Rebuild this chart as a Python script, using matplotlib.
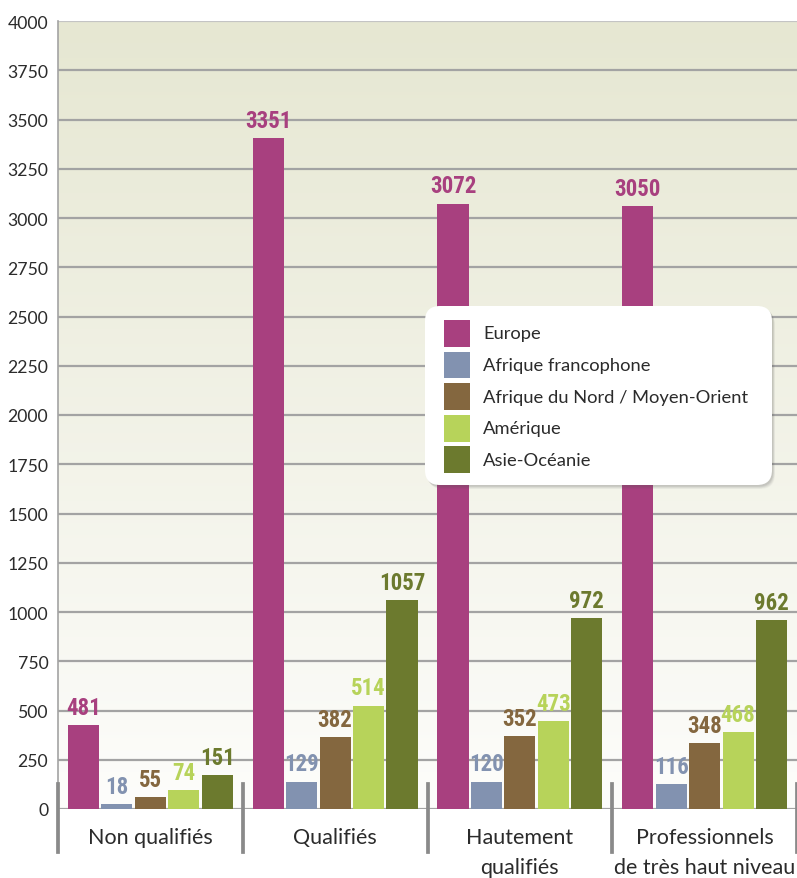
import numpy as np
import matplotlib.pyplot as plt
import matplotlib.colors as mcolors
from matplotlib import font_manager as fm
from matplotlib.patches import FancyBboxPatch, Rectangle

categories = ['Non qualifiés', 'Qualifiés', 'Hautement\nqualifiés', 'Professionnels\nde très haut niveau']
regions = ['Europe', 'Afrique francophone', 'Afrique du Nord / Moyen-Orient', 'Amérique', 'Asie-Océanie']
colors = ['#a8407f', '#8292b0', '#84673f', '#b7d35a', '#6c7a2e']

# printed values
europe = [481, 3351, 3072, 3050]
afrique_franco = [18, 129, 120, 116]
afrique_nord = [55, 382, 352, 348]
amerique = [74, 514, 473, 468]
asie = [151, 1057, 972, 962]

# bar heights as drawn in the picture (they do not match the printed values)
europe_h = [427, 3404, 3073, 3062]
afrique_franco_h = [25, 139, 139, 127]
afrique_nord_h = [62, 366, 371, 335]
amerique_h = [96, 525, 447, 391]
asie_h = [173, 1062, 970, 960]

values = [europe, afrique_franco, afrique_nord, amerique, asie]
heights = [europe_h, afrique_franco_h, afrique_nord_h, amerique_h, asie_h]

# pick a narrow bold font for the value labels if one is installed
lab_font = {'family': 'Roboto', 'size': 14.5}
for fam in ['Roboto Condensed', 'Liberation Sans Narrow', 'DejaVu Sans Condensed']:
    try:
        fm.findfont(fm.FontProperties(family=fam, weight='bold'), fallback_to_default=False)
        lab_font = {'family': fam, 'size': 16.5}
        break
    except ValueError:
        pass

txt = '#2b2b2b'
W, H = 797, 879
fig = plt.figure(figsize=(W/100, H/100), dpi=100)
ax = fig.add_axes([58/W, 69/H, 1 - 58/W, (810-22)/H])
ax.set_xlim(-0.5, 3.5)
ax.set_ylim(0, 4000)

# background gradient
top = np.array(mcolors.to_rgb('#e6e7d2'))
bot = np.array(mcolors.to_rgb('#fdfdfb'))
t = np.linspace(0, 1, 256)[:, None]
grad = (top * (1 - t) + bot * t)[:, None, :]
ax.imshow(grad, extent=[-0.5, 3.5, 0, 4000], aspect='auto', zorder=0, origin='upper')

for yv in range(250, 4000, 250):
    ax.axhline(yv, color='#a3a3a3', lw=1.6, zorder=1)
ax.axhline(4000, color='#c4c4c4', lw=1.6, zorder=1)
ax.axhline(0, color='#a3a3a3', lw=1.6, zorder=1)

x = np.arange(len(categories))
pitch = 0.181
width = 0.168
for k in range(5):
    xs = x + (k - 2) * pitch
    ax.bar(xs, heights[k], width=width, color=colors[k], zorder=3)
    for xi, h, v in zip(xs, heights[k], values[k]):
        ax.annotate(str(v), (xi, h), xytext=(0, 4.5), textcoords='offset points',
                    ha='center', va='bottom', fontsize=lab_font['size'], fontweight='bold',
                    color=colors[k], family=lab_font['family'], zorder=4)

# group dividers below the axis
for xd in np.arange(-0.5, 3.6, 1.0):
    ax.plot([xd, xd], [127, -218], color='#8a8a8a', lw=2.7, clip_on=False, zorder=5)

for xi, c in zip(x, categories):
    ax.annotate(c, (xi, 0), xytext=(0, -13), textcoords='offset points', ha='center',
                va='top', fontsize=15.5, color=txt, family='Lato', linespacing=1.6)

ax.set_yticks(range(0, 4001, 250))
ax.set_yticklabels([str(v) for v in range(0, 4001, 250)], fontsize=12.7, color=txt, family='Lato')
ax.tick_params(axis='y', length=0, pad=7)
ax.set_xticks([])
for s in ['top', 'right', 'bottom']:
    ax.spines[s].set_visible(False)
ax.spines['left'].set_color('#a3a3a3')
ax.spines['left'].set_linewidth(1.2)

# legend box drawn in pixel units on an overlay
ov = fig.add_axes([0, 0, 1, 1], zorder=10)
ov.set_xlim(0, W)
ov.set_ylim(H, 0)
ov.axis('off')
for i, (dx, a) in enumerate([(5, 0.05), (4, 0.07), (3, 0.09), (2, 0.1)]):
    ov.add_patch(FancyBboxPatch((425 + dx*0.6, 307 + dx*0.8), 347, 179,
                                boxstyle='round,pad=0,rounding_size=15',
                                fc='#555555', ec='none', alpha=a))
ov.add_patch(FancyBboxPatch((425, 307), 347, 179, boxstyle='round,pad=0,rounding_size=15',
                            fc='white', ec='none'))
for i, (r, c) in enumerate(zip(regions, colors)):
    y0 = 321 + i * 31.6
    ov.add_patch(Rectangle((444, y0), 26, 26.7, fc=c, ec='none'))
    ov.text(483, y0 + 13.5, r, fontsize=13.2, family='Lato', color=txt, va='center', ha='left')

fig.savefig('out.png', dpi=100)
